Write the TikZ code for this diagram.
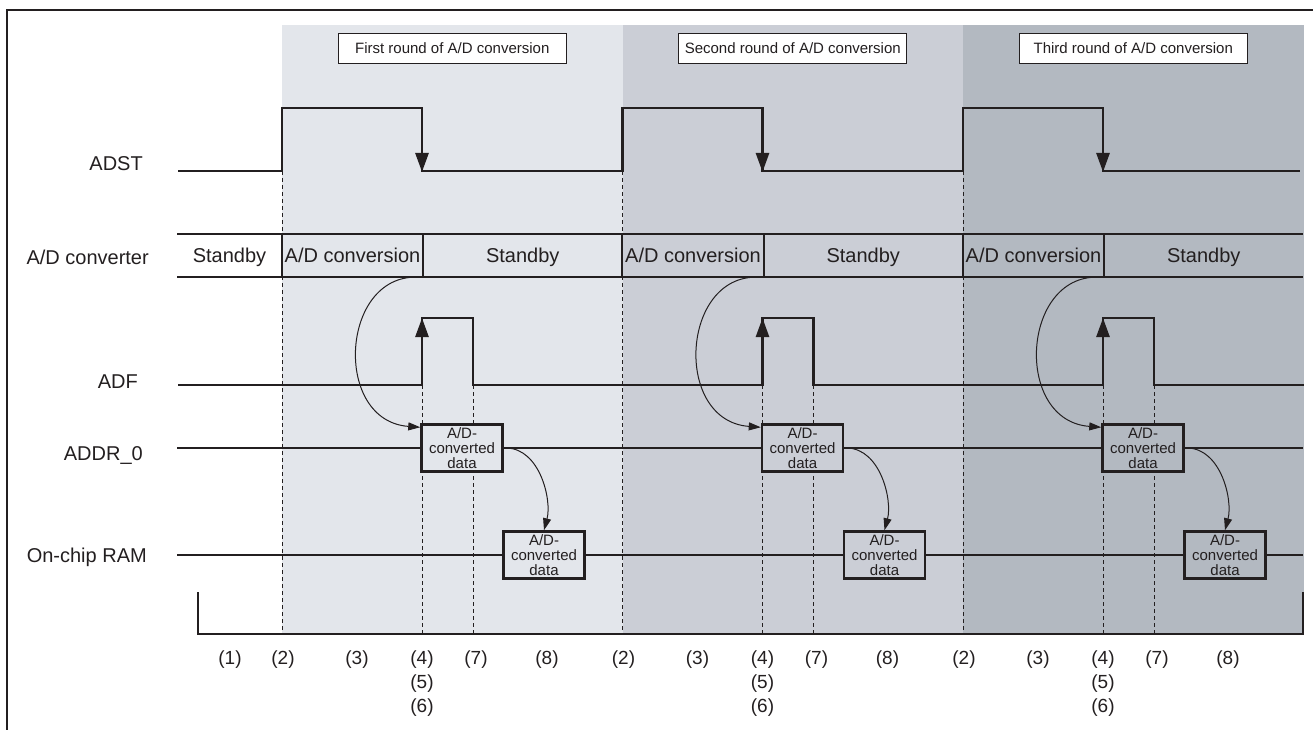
\documentclass[tikz,border=0pt]{standalone}
\usepackage{fontspec}
\setmainfont{Liberation Sans}
\usetikzlibrary{arrows.meta,positioning}
\definecolor{roundA}{HTML}{E3E6EB}
\definecolor{roundB}{HTML}{CBCED6}
\definecolor{roundC}{HTML}{B3B9C1}
\definecolor{ink}{HTML}{231F20}

\begin{document}
\begin{tikzpicture}[x=1pt, y=-1pt]
	\tikzstyle{every node} = [text=ink, inner sep=0pt]
	\tikzstyle{signame} = [anchor=base east, font=\fontsize{20}{24}\selectfont]
	\tikzstyle{wave} = [draw=ink, line width=2.6pt]
	\tikzstyle{bus} = [draw=ink, line width=2pt]
	\tikzstyle{guide} = [draw=ink, line width=0.9pt, dash pattern=on 4pt off 3pt]
	\tikzstyle{roundbox} = [draw=ink, fill=white, line width=0.8pt, minimum width=228pt, minimum height=30pt, font=\fontsize{15}{15}\selectfont]
	\tikzstyle{statecell} = [minimum width=141pt, minimum height=43pt, text height=15pt, text depth=0pt, font=\fontsize{20}{24}\selectfont]
	\tikzstyle{databox} = [draw=ink, line width=2.5pt, minimum width=81pt, minimum height=47pt, align=center, font=\fontsize{15}{15}\selectfont]
	\tikzstyle{phase} = [anchor=north, align=center, font=\fontsize{19}{24}\selectfont]
	\tikzstyle{flow} = [draw=ink, line width=1pt, -{Triangle[length=12pt,width=8pt]}]
	\tikzstyle{edgetip} = [-{Triangle[length=19pt,width=13pt]}]

	\useasboundingbox (0,0) rectangle (1315,730);
	\draw [ink, line width=2.5pt] (7,730) -- (7,10) -- (1313,10);

	% one pass per round of A/D conversion
	\foreach \i/\col/\name in {1/roundA/First, 2/roundB/Second, 3/roundC/Third} {
		\pgfmathsetmacro{\xs}{282+(\i-1)*340.5}
		\fill [\col] (\xs,25) rectangle (\xs+340.5,634);
		\draw [guide] (\xs,171) -- (\xs,634);
		\draw [guide] (\xs+140,385) -- (\xs+140,634);
		\draw [guide] (\xs+191,385) -- (\xs+191,634);
		\node [roundbox] (title\i) at (\xs+170.25,48) {\name\ round of A/D conversion};
		\node [statecell] (conv\i) at (\xs+70.5,255.5) {A/D conversion};
		\node [statecell, minimum width=199.5pt] (stby\i) at (\xs+240.75,255.5) {Standby};
		\draw [bus] (conv\i.north west) -- (conv\i.south west);
		\draw [bus] (conv\i.north east) -- (conv\i.south east);
		\node [databox, fill=\col] (addr\i) at (\xs+180,448) {A/D-\\converted\\data};
		\node [databox, fill=\col] (ram\i)  at (\xs+262,555) {A/D-\\converted\\data};
		\draw [wave, edgetip] (\xs+140,108) -- (\xs+140,172);
		\draw [wave, edgetip] (\xs+140,386) -- (\xs+140,318);
		\draw [flow] ([xshift=-10pt]conv\i.south east) .. controls (\xs+58,280) and (\xs+52,421) .. ([yshift=-4pt]addr\i.north west);
		\draw [flow] ([xshift=3pt]addr\i.east) .. controls (\xs+258,449) and (\xs+270,500) .. (ram\i.north);
		\node [phase] (p2\i) at (\xs+1,651)   {(2)};
		\node [phase] (p3\i) at (\xs+75,651)  {(3)};
		\node [phase] (p4\i) at (\xs+140,651) {(4)\\(5)\\(6)};
		\node [phase] (p7\i) at (\xs+194,651) {(7)};
		\node [phase] (p8\i) at (\xs+265,651) {(8)};
	}

	\node [signame] (lblADST) at (143,171) {ADST};
	\node [signame] (lblADC)  at (149,265) {A/D converter};
	\node [signame] (lblADF)  at (138,388) {ADF};
	\node [signame] (lblADDR) at (143,460) {ADDR\_0};
	\node [signame] (lblRAM)  at (147,562) {On-chip RAM};
	\node [statecell, minimum width=105pt] (stby0) at (229.5,255.5) {Standby};
	\node [phase] (p1) at (230,651) {(1)};

	\draw [wave] (178,171) -- (282,171) -- (282,108) -- (422,108) -- (422,171) -- (622.5,171) -- (622.5,108)
		-- (762.5,108) -- (762.5,171) -- (963,171) -- (963,108) -- (1103,108) -- (1103,171) -- (1300,171);
	\draw [wave] (178,385) -- (422,385) -- (422,318) -- (473,318) -- (473,385) -- (762.5,385) -- (762.5,318)
		-- (813.5,318) -- (813.5,385) -- (1103,385) -- (1103,318) -- (1154,318) -- (1154,385) -- (1304,385);
	\draw [bus] (177,234) -- (1303,234);
	\draw [bus] (177,277) -- (1303,277);

	\coordinate (addrIn)  at (177,448);
	\coordinate (addrOut) at (1303,448);
	\coordinate (ramIn)   at (177,555);
	\coordinate (ramOut)  at (1303,555);
	\draw [bus] (addrIn) -- (addr1.west) (addr1.east) -- (addr2.west) (addr2.east) -- (addr3.west) (addr3.east) -- (addrOut);
	\draw [bus] (ramIn) -- (ram1.west) (ram1.east) -- (ram2.west) (ram2.east) -- (ram3.west) (ram3.east) -- (ramOut);

	\draw [ink, line width=1.2pt] (198,592) -- (198,634) -- (1303,634) -- (1303,592);
\end{tikzpicture}
\end{document}
